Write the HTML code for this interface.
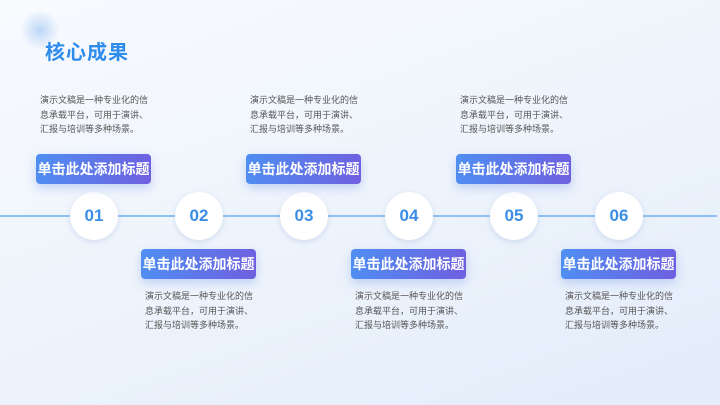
<!DOCTYPE html>
<html><head><meta charset="utf-8"><style>
*{margin:0;padding:0;box-sizing:border-box}
body{width:720px;height:405px;overflow:hidden;position:relative;font-family:"Liberation Sans","Noto Sans CJK SC",sans-serif;background:linear-gradient(160deg,#f8fafe 0%,#eef4fc 50%,#e2ecfa 100%)}
.glow{position:absolute;left:20px;top:10px;width:40px;height:40px;border-radius:50%;background:radial-gradient(circle,#bcd6f7 0%,rgba(200,220,250,0) 70%)}
.title{position:absolute;left:45px;top:36px;font-size:20px;font-weight:bold;color:#2f8cec;letter-spacing:1px}
.line{position:absolute;left:0;top:215px;width:717px;height:2px;background:#8fc0f2}
.c{position:absolute;top:192px;width:48px;height:48px;border-radius:50%;background:#fff;box-shadow:0 2px 6px rgba(120,150,200,.25);text-align:center;line-height:48px;font-size:17px;font-weight:bold;color:#3a8ee6}
.b{position:absolute;width:115px;height:30px;border-radius:4px;background:linear-gradient(100deg,#4f8ff2,#6f5fe0);color:#fff;font-size:14px;font-weight:bold;text-align:center;line-height:30px;box-shadow:0 4px 10px rgba(90,130,230,.3);white-space:nowrap}
.p{position:absolute;width:140px;font-size:9px;line-height:14.5px;color:#555}
</style></head><body>
<div class="glow"></div>
<div class="title">核心成果</div>
<div class="line"></div>
<div class="c" style="left:70px">01</div>
<div class="c" style="left:175px">02</div>
<div class="c" style="left:280px">03</div>
<div class="c" style="left:385px">04</div>
<div class="c" style="left:490px">05</div>
<div class="c" style="left:595px">06</div>

<div class="p" style="left:40px;top:93px">演示文稿是一种专业化的信<br>息承载平台，可用于演讲、<br>汇报与培训等多种场景。</div>
<div class="b" style="left:36px;top:154px">单击此处添加标题</div>
<div class="p" style="left:250px;top:93px">演示文稿是一种专业化的信<br>息承载平台，可用于演讲、<br>汇报与培训等多种场景。</div>
<div class="b" style="left:246px;top:154px">单击此处添加标题</div>
<div class="p" style="left:460px;top:93px">演示文稿是一种专业化的信<br>息承载平台，可用于演讲、<br>汇报与培训等多种场景。</div>
<div class="b" style="left:456px;top:154px">单击此处添加标题</div>

<div class="b" style="left:141px;top:249px">单击此处添加标题</div>
<div class="p" style="left:145px;top:289px">演示文稿是一种专业化的信<br>息承载平台，可用于演讲、<br>汇报与培训等多种场景。</div>
<div class="b" style="left:351px;top:249px">单击此处添加标题</div>
<div class="p" style="left:355px;top:289px">演示文稿是一种专业化的信<br>息承载平台，可用于演讲、<br>汇报与培训等多种场景。</div>
<div class="b" style="left:561px;top:249px">单击此处添加标题</div>
<div class="p" style="left:565px;top:289px">演示文稿是一种专业化的信<br>息承载平台，可用于演讲、<br>汇报与培训等多种场景。</div>
</body></html>
